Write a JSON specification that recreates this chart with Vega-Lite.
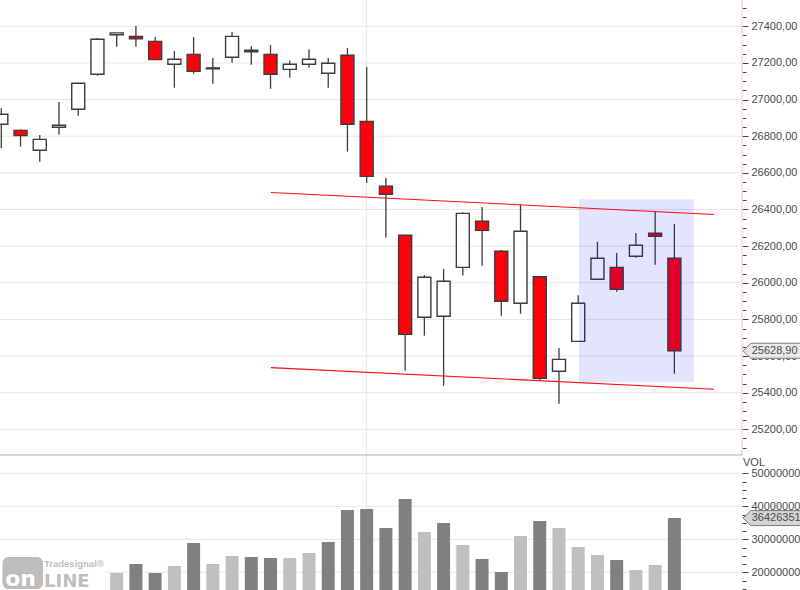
{
  "$schema": "https://vega.github.io/schema/vega-lite/v6.json",
  "background": "white",
  "padding": 0,
  "autosize": {"type": "none"},
  "width": 800,
  "height": 590,
  "config": {
    "view": {"stroke": null},
    "axis": {"labelFont": "Liberation Sans", "labelFontSize": 11, "labelColor": "#4a4a4a"}
  },
  "resolve": {"scale": {"y": "independent"}, "axis": {"y": "independent"}},
  "datasets": {
    "candles": [
      {"bar": 0, "open": 26865, "high": 26952, "low": 26734, "close": 26920, "dir": "up"},
      {"bar": 1, "open": 26832, "high": 26838, "low": 26743, "close": 26803, "dir": "down"},
      {"bar": 2, "open": 26723, "high": 26807, "low": 26661, "close": 26783, "dir": "up"},
      {"bar": 3, "open": 26849, "high": 26987, "low": 26808, "close": 26860, "dir": "up"},
      {"bar": 4, "open": 26947, "high": 27089, "low": 26912, "close": 27089, "dir": "up"},
      {"bar": 5, "open": 27138, "high": 27336, "low": 27130, "close": 27329, "dir": "up"},
      {"bar": 6, "open": 27354, "high": 27364, "low": 27289, "close": 27364, "dir": "up"},
      {"bar": 7, "open": 27345, "high": 27402, "low": 27289, "close": 27332, "dir": "down"},
      {"bar": 8, "open": 27318, "high": 27342, "low": 27218, "close": 27218, "dir": "down"},
      {"bar": 9, "open": 27193, "high": 27265, "low": 27065, "close": 27220, "dir": "up"},
      {"bar": 10, "open": 27247, "high": 27342, "low": 27141, "close": 27154, "dir": "down"},
      {"bar": 11, "open": 27168, "high": 27227, "low": 27087, "close": 27173, "dir": "up"},
      {"bar": 12, "open": 27231, "high": 27369, "low": 27201, "close": 27345, "dir": "up"},
      {"bar": 13, "open": 27261, "high": 27291, "low": 27190, "close": 27269, "dir": "up"},
      {"bar": 14, "open": 27247, "high": 27298, "low": 27059, "close": 27138, "dir": "down"},
      {"bar": 15, "open": 27165, "high": 27214, "low": 27119, "close": 27193, "dir": "up"},
      {"bar": 16, "open": 27193, "high": 27275, "low": 27174, "close": 27220, "dir": "up"},
      {"bar": 17, "open": 27144, "high": 27227, "low": 27065, "close": 27198, "dir": "up"},
      {"bar": 18, "open": 27242, "high": 27282, "low": 26716, "close": 26865, "dir": "down"},
      {"bar": 19, "open": 26881, "high": 27178, "low": 26546, "close": 26581, "dir": "down"},
      {"bar": 20, "open": 26527, "high": 26572, "low": 26246, "close": 26483, "dir": "down"},
      {"bar": 21, "open": 26259, "high": 26259, "low": 25520, "close": 25719, "dir": "down"},
      {"bar": 22, "open": 25812, "high": 26042, "low": 25711, "close": 26030, "dir": "up"},
      {"bar": 23, "open": 25817, "high": 26075, "low": 25438, "close": 26008, "dir": "up"},
      {"bar": 24, "open": 26084, "high": 26385, "low": 26039, "close": 26379, "dir": "up"},
      {"bar": 25, "open": 26336, "high": 26414, "low": 26093, "close": 26286, "dir": "down"},
      {"bar": 26, "open": 26172, "high": 26179, "low": 25820, "close": 25899, "dir": "down"},
      {"bar": 27, "open": 25888, "high": 26428, "low": 25831, "close": 26281, "dir": "up"},
      {"bar": 28, "open": 26033, "high": 26035, "low": 25469, "close": 25478, "dir": "down"},
      {"bar": 29, "open": 25517, "high": 25644, "low": 25340, "close": 25582, "dir": "up"},
      {"bar": 30, "open": 25680, "high": 25932, "low": 25680, "close": 25888, "dir": "up"},
      {"bar": 31, "open": 26019, "high": 26223, "low": 26019, "close": 26134, "dir": "up"},
      {"bar": 32, "open": 26084, "high": 26163, "low": 25951, "close": 25964, "dir": "down"},
      {"bar": 33, "open": 26145, "high": 26272, "low": 26137, "close": 26205, "dir": "up"},
      {"bar": 34, "open": 26270, "high": 26390, "low": 26099, "close": 26254, "dir": "down"},
      {"bar": 35, "open": 26134, "high": 26321, "low": 25504, "close": 25628.9, "dir": "down"}
    ],
    "volumes": [
      {"bar": 6, "volume": 19790000, "shade": "light"},
      {"bar": 7, "volume": 22520000, "shade": "dark"},
      {"bar": 8, "volume": 19790000, "shade": "dark"},
      {"bar": 9, "volume": 21910000, "shade": "light"},
      {"bar": 10, "volume": 28880000, "shade": "dark"},
      {"bar": 11, "volume": 22520000, "shade": "light"},
      {"bar": 12, "volume": 24940000, "shade": "light"},
      {"bar": 13, "volume": 24640000, "shade": "dark"},
      {"bar": 14, "volume": 24330000, "shade": "dark"},
      {"bar": 15, "volume": 24330000, "shade": "light"},
      {"bar": 16, "volume": 25850000, "shade": "light"},
      {"bar": 17, "volume": 29180000, "shade": "dark"},
      {"bar": 18, "volume": 38880000, "shade": "dark"},
      {"bar": 19, "volume": 39180000, "shade": "dark"},
      {"bar": 20, "volume": 33420000, "shade": "dark"},
      {"bar": 21, "volume": 42210000, "shade": "dark"},
      {"bar": 22, "volume": 32210000, "shade": "light"},
      {"bar": 23, "volume": 34940000, "shade": "dark"},
      {"bar": 24, "volume": 28270000, "shade": "light"},
      {"bar": 25, "volume": 24030000, "shade": "dark"},
      {"bar": 26, "volume": 20090000, "shade": "dark"},
      {"bar": 27, "volume": 31000000, "shade": "light"},
      {"bar": 28, "volume": 35550000, "shade": "dark"},
      {"bar": 29, "volume": 33420000, "shade": "light"},
      {"bar": 30, "volume": 27670000, "shade": "light"},
      {"bar": 31, "volume": 25240000, "shade": "light"},
      {"bar": 32, "volume": 23730000, "shade": "dark"},
      {"bar": 33, "volume": 20700000, "shade": "light"},
      {"bar": 34, "volume": 22210000, "shade": "light"},
      {"bar": 35, "volume": 36426351, "shade": "dark"}
    ],
    "channel": [
      {"bar": 14.02, "price": 26493, "side": "upper"},
      {"bar": 37.06, "price": 26373, "side": "upper"},
      {"bar": 14.02, "price": 25537, "side": "lower"},
      {"bar": 37.06, "price": 25419, "side": "lower"}
    ],
    "priceLevels": [
      {"level": 25200}, {"level": 25400}, {"level": 25600}, {"level": 25800}, {"level": 26000}, {"level": 26200},
      {"level": 26400}, {"level": 26600}, {"level": 26800}, {"level": 27000}, {"level": 27200}, {"level": 27400}
    ],
    "volumeLevels": [
      {"level": 20000000}, {"level": 30000000}, {"level": 40000000}, {"level": 50000000}
    ]
  },
  "layer": [
    {
      "layer": [
        {
          "data": {"name": "priceLevels"},
          "mark": {"type": "rule", "color": "#e6e6e6", "strokeWidth": 1},
          "encoding": {
            "x": {
              "datum": -0.068,
              "type": "quantitative",
              "scale": {"domain": [-0.068, 41.533], "nice": false, "zero": false, "padding": 0},
              "axis": null
            },
            "x2": {"datum": 38.52},
            "y": {
              "field": "level",
              "type": "quantitative",
              "scale": {"domain": [24322.8, 27543.6], "nice": false, "zero": false},
              "axis": {
                "orient": "right",
                "offset": -58,
                "title": null,
                "values": [25100, 25150, 25200, 25250, 25300, 25350, 25400, 25450, 25500, 25550, 25600, 25650, 25700, 25750, 25800, 25850, 25900, 25950, 26000, 26050, 26100, 26150, 26200, 26250, 26300, 26350, 26400, 26450, 26500, 26550, 26600, 26650, 26700, 26750, 26800, 26850, 26900, 26950, 27000, 27050, 27100, 27150, 27200, 27250, 27300, 27350, 27400, 27450, 27500],
                "tickCount": 100,
                "format": ".2f",
                "labelExpr": "datum.value % 200 == 0 ? replace(datum.label, '.', ',') : ''",
                "labelOverlap": false,
                "labelPadding": 3,
                "labelBound": false,
                "labelFlush": false,
                "grid": false,
                "domain": false,
                "tickColor": "#444444",
                "tickSize": {"condition": {"test": "datum.value % 200 == 0", "value": 6}, "value": 4}
              }
            }
          }
        },
        {
          "data": {"values": [{}]},
          "mark": {"type": "rule", "color": "#e6e6e6", "strokeWidth": 1},
          "encoding": {
            "x": {"datum": 19, "type": "quantitative"}
          }
        },
        {
          "data": {"values": [{}]},
          "mark": {"type": "rule", "color": "#f6c4c4", "strokeWidth": 1},
          "encoding": {
            "x": {"datum": 38.52, "type": "quantitative"},
            "y": {"datum": 25059.7, "type": "quantitative"},
            "y2": {"datum": 27543.6}
          }
        },
        {
          "data": {"values": [{}]},
          "mark": {"type": "rule", "color": "#ababab", "strokeWidth": 1},
          "encoding": {
            "x": {"datum": -0.068, "type": "quantitative"},
            "x2": {"datum": 38.52},
            "y": {"datum": 25059.7, "type": "quantitative"}
          }
        },
        {
          "data": {"name": "candles"},
          "mark": {"type": "rule", "color": "#3c3c3c", "strokeWidth": 1.3, "clip": true},
          "encoding": {
            "x": {"field": "bar", "type": "quantitative"},
            "y": {"field": "low", "type": "quantitative"},
            "y2": {"field": "high"}
          }
        },
        {
          "data": {"name": "candles"},
          "mark": {"type": "bar", "width": 13, "stroke": "#3c3c3c", "strokeWidth": 1.4, "clip": true},
          "encoding": {
            "x": {"field": "bar", "type": "quantitative"},
            "y": {"field": "open", "type": "quantitative"},
            "y2": {"field": "close"},
            "fill": {
              "field": "dir",
              "type": "nominal",
              "scale": {"domain": ["up", "down"], "range": ["#ffffff", "#ff000c"]},
              "legend": null
            }
          }
        },
        {
          "data": {"values": [{"from": 30.04, "to": 36.02, "bottom": 25456.6, "top": 26455.6}]},
          "mark": {"type": "rect", "fill": "#0000ff", "fillOpacity": 0.105},
          "encoding": {
            "x": {"field": "from", "type": "quantitative"},
            "x2": {"field": "to"},
            "y": {"field": "bottom", "type": "quantitative"},
            "y2": {"field": "top"}
          }
        },
        {
          "data": {"name": "channel"},
          "mark": {"type": "line", "color": "#ff0a14", "strokeWidth": 1.1},
          "encoding": {
            "x": {"field": "bar", "type": "quantitative"},
            "y": {"field": "price", "type": "quantitative"},
            "detail": {"field": "side"}
          }
        },
        {
          "data": {"values": [{"bar": 38.57, "price": 25628.9}]},
          "mark": {
            "type": "point",
            "shape": "M0,0 L0.13,-0.125 L1,-0.125 L1,0.125 L0.13,0.125 Z",
            "size": 14400,
            "filled": true,
            "fill": "#e9e9e9",
            "stroke": "#7a7a7a",
            "strokeWidth": 1,
            "opacity": 1
          },
          "encoding": {
            "x": {"field": "bar", "type": "quantitative"},
            "y": {"field": "price", "type": "quantitative"}
          }
        },
        {
          "data": {"values": [{"bar": 39.02, "price": 25628.9, "tag": "25628,90"}]},
          "mark": {"type": "text", "align": "left", "baseline": "middle", "font": "Liberation Sans", "fontSize": 11, "color": "#4a4a4a"},
          "encoding": {
            "x": {"field": "bar", "type": "quantitative"},
            "y": {"field": "price", "type": "quantitative"},
            "text": {"field": "tag"}
          }
        }
      ]
    },
    {
      "layer": [
        {
          "data": {"name": "volumeLevels"},
          "mark": {"type": "rule", "color": "#e6e6e6", "strokeWidth": 1},
          "encoding": {
            "x": {"datum": -0.068, "type": "quantitative"},
            "x2": {"datum": 38.52},
            "y": {
              "field": "level",
              "type": "quantitative",
              "scale": {"domain": [14640000, 193420000], "nice": false, "zero": false},
              "axis": {
                "orient": "right",
                "offset": -58,
                "title": null,
                "values": [15000000, 17500000, 20000000, 22500000, 25000000, 27500000, 30000000, 32500000, 35000000, 37500000, 40000000, 42500000, 45000000, 47500000, 50000000],
                "tickCount": 100,
                "labelExpr": "datum.value % 10000000 == 0 ? datum.value : ''",
                "labelOverlap": false,
                "labelPadding": 3,
                "labelBound": false,
                "labelFlush": false,
                "grid": false,
                "domain": false,
                "tickColor": "#444444",
                "tickSize": {"condition": {"test": "datum.value % 10000000 == 0", "value": 6}, "value": 4}
              }
            }
          }
        },
        {
          "data": {"name": "volumes"},
          "mark": {"type": "bar", "width": 13},
          "encoding": {
            "x": {"field": "bar", "type": "quantitative"},
            "y": {"field": "volume", "type": "quantitative"},
            "y2": {"datum": 14640000},
            "color": {
              "field": "shade",
              "type": "nominal",
              "scale": {"domain": ["light", "dark"], "range": ["#bfbfbf", "#808080"]},
              "legend": null
            }
          }
        },
        {
          "data": {"values": [{"from": -0.068, "to": 5.4, "bottom": 14640000, "top": 24940000}]},
          "mark": {"type": "rect", "fill": "white"},
          "encoding": {
            "x": {"field": "from", "type": "quantitative"},
            "x2": {"field": "to"},
            "y": {"field": "bottom", "type": "quantitative"},
            "y2": {"field": "top"}
          }
        },
        {
          "data": {"values": [{"from": 0.06, "to": 2.17, "bottom": 14950000, "top": 24640000}]},
          "mark": {"type": "rect", "fill": "#bdbdbd", "cornerRadius": 6},
          "encoding": {
            "x": {"field": "from", "type": "quantitative"},
            "x2": {"field": "to"},
            "y": {"field": "bottom", "type": "quantitative"},
            "y2": {"field": "top"}
          }
        },
        {
          "data": {"values": [{"bar": 0.2, "volume": 16000000, "word": "on"}]},
          "mark": {"type": "text", "align": "left", "baseline": "alphabetic", "font": "DejaVu Sans", "fontWeight": "bold", "fontSize": 22, "color": "white"},
          "encoding": {
            "x": {"field": "bar", "type": "quantitative"},
            "y": {"field": "volume", "type": "quantitative"},
            "text": {"field": "word"}
          }
        },
        {
          "data": {"values": [{"bar": 2.22, "volume": 15700000, "word": "LINE"}]},
          "mark": {"type": "text", "align": "left", "baseline": "alphabetic", "font": "DejaVu Sans", "fontWeight": "bold", "fontSize": 18, "color": "#bdbdbd"},
          "encoding": {
            "x": {"field": "bar", "type": "quantitative"},
            "y": {"field": "volume", "type": "quantitative"},
            "text": {"field": "word"}
          }
        },
        {
          "data": {"values": [{"bar": 2.22, "volume": 21500000, "word": "Tradesignal®"}]},
          "mark": {"type": "text", "align": "left", "baseline": "alphabetic", "font": "Liberation Sans", "fontWeight": "bold", "fontSize": 9.5, "color": "#bdbdbd"},
          "encoding": {
            "x": {"field": "bar", "type": "quantitative"},
            "y": {"field": "volume", "type": "quantitative"},
            "text": {"field": "word"}
          }
        },
        {
          "data": {"values": [{"bar": 38.57, "volume": 53100000, "word": "VOL"}]},
          "mark": {"type": "text", "align": "left", "baseline": "middle", "font": "Liberation Sans", "fontSize": 11, "color": "#4a4a4a"},
          "encoding": {
            "x": {"field": "bar", "type": "quantitative"},
            "y": {"field": "volume", "type": "quantitative"},
            "text": {"field": "word"}
          }
        },
        {
          "data": {"values": [{"bar": 38.57, "volume": 36426351}]},
          "mark": {
            "type": "point",
            "shape": "M0,0 L0.13,-0.125 L1,-0.125 L1,0.125 L0.13,0.125 Z",
            "size": 14400,
            "filled": true,
            "fill": "#d4d4d4",
            "stroke": "#7a7a7a",
            "strokeWidth": 1,
            "opacity": 1
          },
          "encoding": {
            "x": {"field": "bar", "type": "quantitative"},
            "y": {"field": "volume", "type": "quantitative"}
          }
        },
        {
          "data": {"values": [{"bar": 39.02, "volume": 36426351, "tag": "36426351"}]},
          "mark": {"type": "text", "align": "left", "baseline": "middle", "font": "Liberation Sans", "fontSize": 11, "color": "#4a4a4a"},
          "encoding": {
            "x": {"field": "bar", "type": "quantitative"},
            "y": {"field": "volume", "type": "quantitative"},
            "text": {"field": "tag"}
          }
        }
      ]
    }
  ]
}
